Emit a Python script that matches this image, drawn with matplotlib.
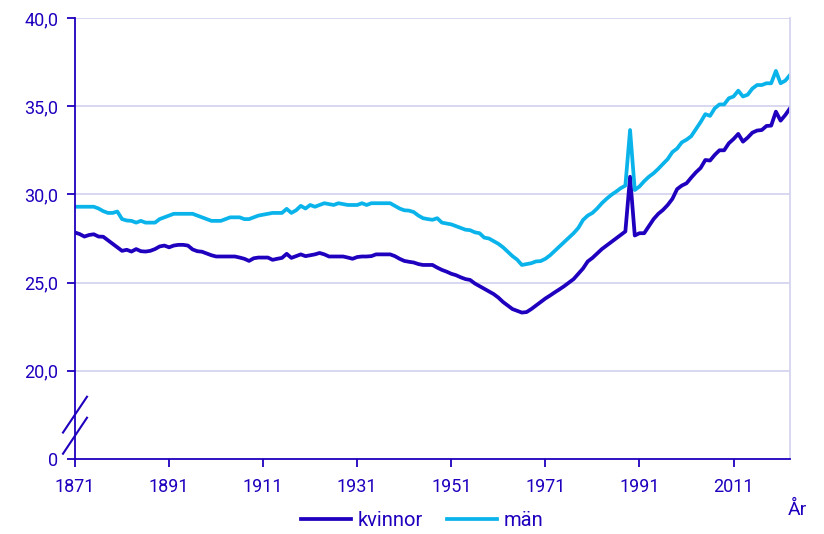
import numpy as np
import matplotlib
matplotlib.use('Agg')
import matplotlib.pyplot as plt
import matplotlib.transforms as mtransforms

plt.rcParams['font.family'] = ['Roboto', 'DejaVu Sans']

# Data
years = list(range(1871, 2024))
kvinnor = [
    27.84, 27.75, 27.61, 27.7, 27.74, 27.61, 27.6, 27.4, 27.2, 27.0,
    26.8, 26.86, 26.76, 26.9, 26.78, 26.76, 26.8, 26.9, 27.05, 27.1,
    27.0, 27.1, 27.14, 27.14, 27.1, 26.88, 26.78, 26.75, 26.65, 26.55,
    26.48, 26.48, 26.48, 26.48, 26.48, 26.42, 26.35, 26.23, 26.38, 26.42,
    26.42, 26.42, 26.29, 26.35, 26.4, 26.63, 26.4, 26.5, 26.6, 26.5,
    26.55, 26.6, 26.68, 26.6, 26.48, 26.48, 26.48, 26.48, 26.42, 26.35,
    26.45, 26.48, 26.48, 26.5, 26.6, 26.6, 26.6, 26.6, 26.5, 26.35,
    26.23, 26.18, 26.14, 26.05, 26.0, 26.0, 26.0, 25.85, 25.72, 25.62,
    25.5, 25.42, 25.3, 25.2, 25.15, 24.95, 24.8, 24.65, 24.5, 24.35,
    24.15, 23.9, 23.7, 23.5, 23.4, 23.3, 23.33, 23.5, 23.7, 23.9,
    24.1, 24.27, 24.45, 24.62, 24.8, 25.0, 25.2, 25.5, 25.8, 26.2,
    26.4, 26.65, 26.9, 27.1, 27.3, 27.5, 27.7, 27.9, 31.0, 27.67,
    27.8, 27.8, 28.2, 28.6, 28.9, 29.12, 29.4, 29.75, 30.3, 30.5,
    30.63, 30.95, 31.25, 31.5, 31.95, 31.92, 32.24, 32.5, 32.5, 32.9,
    33.14, 33.43, 32.99, 33.22, 33.5, 33.62, 33.65, 33.88, 33.9, 34.69,
    34.18, 34.5, 34.88,
]
man = [
    29.3, 29.3, 29.3, 29.3, 29.3, 29.2, 29.05, 28.95, 28.95, 29.03,
    28.6, 28.52, 28.5, 28.4, 28.5, 28.4, 28.4, 28.4, 28.6, 28.7,
    28.8, 28.9, 28.9, 28.9, 28.9, 28.9, 28.8, 28.7, 28.6, 28.5,
    28.5, 28.5, 28.6, 28.7, 28.7, 28.7, 28.6, 28.6, 28.7, 28.8,
    28.85, 28.9, 28.95, 28.95, 28.95, 29.18, 28.95, 29.1, 29.35, 29.2,
    29.4, 29.3, 29.4, 29.5, 29.45, 29.4, 29.5, 29.45, 29.4, 29.4,
    29.4, 29.5, 29.4, 29.5, 29.5, 29.5, 29.5, 29.5, 29.35, 29.2,
    29.1, 29.08, 29.0, 28.8, 28.65, 28.6, 28.56, 28.65, 28.4, 28.35,
    28.3, 28.2, 28.1, 28.0, 27.97, 27.85, 27.8, 27.55, 27.5, 27.35,
    27.2, 27.0, 26.75, 26.5, 26.3, 26.0, 26.05, 26.1, 26.2, 26.22,
    26.35, 26.55, 26.8, 27.05, 27.3, 27.55, 27.8, 28.1, 28.55, 28.8,
    28.95, 29.2, 29.5, 29.75, 29.97, 30.15, 30.35, 30.5, 33.65, 30.25,
    30.45, 30.75, 31.0, 31.2, 31.45, 31.73, 32.0, 32.4, 32.6, 32.95,
    33.1, 33.3, 33.7, 34.1, 34.55, 34.45, 34.88, 35.1, 35.1, 35.45,
    35.55, 35.88, 35.55, 35.65, 36.0, 36.2, 36.2, 36.3, 36.3, 37.0,
    36.3, 36.45, 36.77,
]
xticks = [1871, 1891, 1911, 1931, 1951, 1971, 1991, 2011]
yticks = [15, 20, 25, 30, 35, 40]
ylabels = ['0', '20,0', '25,0', '30,0', '35,0', '40,0']

dark = '#1e00be'
light = '#0ab4eb'
grid = '#d4d4f0'

fig = plt.figure(figsize=(8.24, 5.34), dpi=100)
ax = fig.add_axes([75 / 824, 1 - 459 / 534, 715 / 824, 441 / 534])

ax.plot(years, kvinnor, color=dark, lw=2.7, label='kvinnor', solid_joinstyle='round')
ax.plot(years, man, color=light, lw=2.7, label='män', solid_joinstyle='round')

ax.set_xlim(1871, 2023)
ax.set_ylim(15, 40)
ax.set_xticks(xticks)
ax.set_yticks(yticks)
ax.set_yticklabels(ylabels)

for y in yticks[1:]:
    ax.axhline(y, color=grid, lw=1.3, zorder=0)

ax.spines['top'].set_visible(False)
ax.spines['right'].set_color(grid)
ax.spines['right'].set_linewidth(1.3)
ax.spines['left'].set_color(dark)
ax.spines['bottom'].set_color(dark)
ax.spines['left'].set_linewidth(1.3)
ax.spines['bottom'].set_linewidth(1.3)
ax.tick_params(colors=dark, labelcolor=dark, labelsize=13, length=6, width=1.3)
ax.tick_params(axis='x', pad=8)
ax.tick_params(axis='y', pad=6)

# axis break marks
tr = mtransforms.blended_transform_factory(ax.transAxes, ax.transData)
for y0, y1 in [(16.5, 18.53), (15.3, 17.34)]:
    ax.plot([-12 / 715, 12 / 715], [y0, y1], color=dark, lw=1.5,
            transform=tr, clip_on=False)

fig.text(797 / 824, 1 - 510 / 534, 'År', color=dark, fontsize=14,
         ha='center', va='center')

fig.legend(loc='center', bbox_to_anchor=(422 / 824, 1 - 521 / 534), ncol=2,
           frameon=False, fontsize=14.5, labelcolor=dark, handlelength=2.5,
           handletextpad=0.3, columnspacing=1.2)

fig.savefig('out.png', dpi=100)
